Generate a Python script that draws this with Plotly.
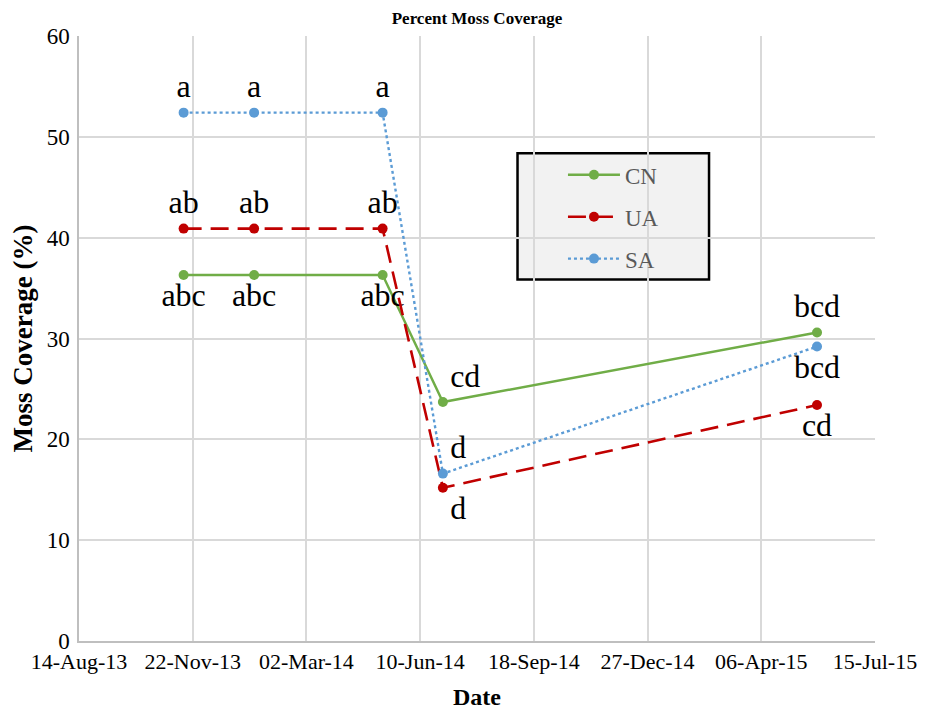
import plotly.graph_objects as go

dates = ["2013-11-14", "2014-01-15", "2014-05-08", "2014-06-30", "2015-05-25"]
cn = [36.3, 36.3, 36.3, 23.7, 30.6]
ua = [40.9, 40.9, 40.9, 15.2, 23.4]
sa = [52.4, 52.4, 52.4, 16.6, 29.2]
cn_labels = ["abc", "abc", "abc", "cd", "bcd"]
ua_labels = ["ab", "ab", "ab", "d", "cd"]
sa_labels = ["a", "a", "a", "d", "bcd"]
cn_pos = ["bottom center", "bottom center", "bottom center", "top right", "top center"]
ua_pos = ["top center", "top center", "top center", "bottom right", "bottom center"]
sa_pos = ["top center", "top center", "top center", "top right", "bottom center"]

tick_vals = ["2013-08-14", "2013-11-22", "2014-03-02", "2014-06-10",
             "2014-09-18", "2014-12-27", "2015-04-06", "2015-07-15"]
tick_text = ["14-Aug-13", "22-Nov-13", "02-Mar-14", "10-Jun-14",
             "18-Sep-14", "27-Dec-14", "06-Apr-15", "15-Jul-15"]
y_ticks = [0, 10, 20, 30, 40, 50, 60]

SERIF = "Liberation Serif, Times New Roman, serif"
lab_font = dict(family=SERIF, size=32, color="black")

fig = go.Figure()
fig.add_trace(go.Scatter(
    x=dates, y=cn, name="CN", mode="lines+markers+text",
    text=cn_labels, textposition=cn_pos, textfont=lab_font,
    line=dict(color="#70ad47", width=2.4),
    marker=dict(color="#70ad47", size=10), legendgroup="g1"))
fig.add_trace(go.Scatter(
    x=dates, y=ua, name="UA", mode="lines+markers+text",
    text=ua_labels, textposition=ua_pos, textfont=lab_font,
    line=dict(color="#c00000", width=2.6, dash="18px,9px"),
    marker=dict(color="#c00000", size=10), legendgroup="g2"))
fig.add_trace(go.Scatter(
    x=dates, y=sa, name="SA", mode="lines+markers+text",
    text=sa_labels, textposition=sa_pos, textfont=lab_font,
    line=dict(color="#5b9bd5", width=2.4, dash="dot"),
    marker=dict(color="#5b9bd5", size=10), legendgroup="g3"))

# legend box drawn as a shape (paper coords of plot area)
fig.add_shape(type="rect", xref="paper", yref="paper",
              x0=0.5509, x1=0.7915, y0=0.5977, y1=0.8063,
              fillcolor="#f2f2f2", line=dict(color="black", width=2.5),
              layer="below")

fig.update_layout(
    width=917, height=702,
    margin=dict(l=71, r=50, t=28, b=69, autoexpand=False),
    paper_bgcolor="white", plot_bgcolor="white",
    font=dict(family=SERIF, color="black"),
    title=dict(text="<b>Percent Moss Coverage</b>", x=0.5, xref="paper",
               y=0.986, yref="container", yanchor="middle",
               font=dict(family=SERIF, size=17)),
    showlegend=True,
    legend=dict(x=0.608, y=0.806, xanchor="left", yanchor="top",
                bgcolor="rgba(0,0,0,0)", borderwidth=0,
                font=dict(family=SERIF, size=23, color="#595959"),
                tracegroupgap=9, itemwidth=52),
    xaxis=dict(type="date", range=["2013-08-14", "2015-07-15"],
               tickvals=tick_vals, ticktext=tick_text,
               tickfont=dict(family=SERIF, size=22),
               showgrid=True, gridcolor="#d9d9d9", gridwidth=1.5,
               showline=True, linecolor="#bfbfbf", linewidth=1.5,
               zeroline=False, ticks="", automargin=False,
               title=dict(text="<b>Date</b>", font=dict(family=SERIF, size=24), standoff=15)),
    yaxis=dict(range=[0, 60], tickvals=y_ticks,
               tickfont=dict(family=SERIF, size=23), ticklabelstandoff=3,
               showgrid=True, gridcolor="#d9d9d9", gridwidth=1.5,
               showline=True, linecolor="#bfbfbf", linewidth=1.5,
               zeroline=False, ticks="", automargin=False,
               title=dict(text="<b>Moss Coverage (%)</b>", font=dict(family=SERIF, size=27), standoff=17)),
)
fig.write_html("out.html")
